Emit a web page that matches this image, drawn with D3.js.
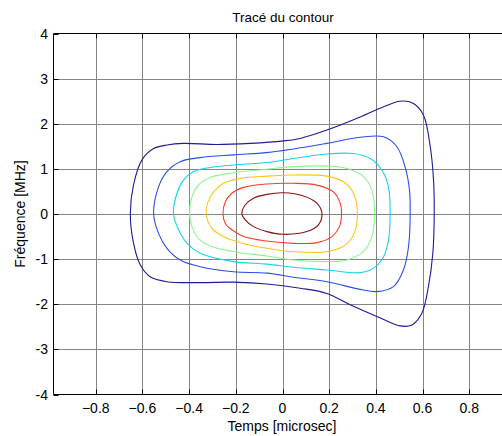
<!DOCTYPE html>
<html><head><meta charset="utf-8">
<script src="https://cdn.jsdelivr.net/npm/d3@7"></script>
<style>body{margin:0;background:#fff}svg{display:block}text{font-family:"Liberation Sans",Arial,sans-serif;fill:#000}</style>
</head><body><svg id="c" width="502" height="436"></svg>
<script>
const title = "Tracé du contour";
const xLabel = "Temps [microsec]";
const yLabel = "Fréquence [MHz]";
const xDomain = [-0.981, 0.981];
const yDomain = [-4, 4];
const xTicks = [-0.8, -0.6, -0.4, -0.2, 0, 0.2, 0.4, 0.6, 0.8];
const yTicks = [-4, -3, -2, -1, 0, 1, 2, 3, 4];
const levelColors = ["#1c1c94", "#2a4ee8", "#18d0f0", "#8cf58c", "#ffc21a", "#ff3a26", "#8a1212"];

const contour1 = [[-0.652,0],[-0.638,0.65],[-0.602,1.2],[-0.552,1.45],[-0.495,1.53],[-0.424,1.565],[-0.281,1.54],[-0.138,1.565],[0.004,1.62],[0.076,1.675],[0.19,1.86],[0.333,2.15],[0.433,2.375],[0.504,2.5],[0.561,2.45],[0.604,2.19],[0.633,1.49],[0.647,0.75],[0.65,0.015],[0.644,-0.87],[0.625,-1.61],[0.597,-2.2],[0.554,-2.46],[0.504,-2.48],[0.404,-2.27],[0.29,-2.01],[0.19,-1.76],[0.076,-1.645],[-0.067,-1.55],[-0.21,-1.51],[-0.352,-1.52],[-0.495,-1.5],[-0.567,-1.39],[-0.609,-1.13],[-0.638,-0.65]];
const contour2 = [[-0.552,0],[-0.531,0.6],[-0.495,0.94],[-0.438,1.16],[-0.352,1.25],[-0.21,1.31],[-0.067,1.36],[0.047,1.44],[0.19,1.565],[0.333,1.7],[0.433,1.71],[0.49,1.49],[0.525,1.05],[0.544,0.53],[0.547,0.015],[0.54,-0.72],[0.518,-1.24],[0.475,-1.61],[0.404,-1.72],[0.333,-1.67],[0.19,-1.5],[0.047,-1.4],[-0.067,-1.31],[-0.21,-1.28],[-0.352,-1.17],[-0.438,-1.02],[-0.495,-0.76],[-0.531,-0.43]];
const contour3 = [[-0.467,0],[-0.452,0.46],[-0.424,0.75],[-0.381,0.94],[-0.31,1.03],[-0.21,1.085],[-0.067,1.14],[0.047,1.23],[0.19,1.33],[0.304,1.34],[0.376,1.23],[0.426,0.97],[0.454,0.6],[0.461,0.015],[0.454,-0.58],[0.433,-0.945],[0.39,-1.2],[0.333,-1.3],[0.19,-1.24],[0.047,-1.18],[-0.067,-1.11],[-0.21,-1.055],[-0.352,-0.87],[-0.409,-0.65],[-0.445,-0.35]];
const contour4 = [[-0.398,0],[-0.388,0.38],[-0.36,0.64],[-0.31,0.81],[-0.21,0.915],[-0.067,0.99],[0.047,1.05],[0.19,1.06],[0.276,1.01],[0.347,0.83],[0.383,0.53],[0.394,0.015],[0.383,-0.5],[0.347,-0.83],[0.276,-1.02],[0.19,-1.055],[0.047,-1.02],[-0.067,-0.93],[-0.21,-0.835],[-0.31,-0.71],[-0.36,-0.54],[-0.388,-0.28]];
const contour5 = [[-0.327,0],[-0.321,0.24],[-0.295,0.49],[-0.253,0.68],[-0.181,0.79],[-0.067,0.84],[0.047,0.865],[0.19,0.84],[0.261,0.715],[0.304,0.46],[0.321,0.015],[0.307,-0.43],[0.268,-0.69],[0.19,-0.835],[0.047,-0.835],[-0.067,-0.76],[-0.181,-0.635],[-0.253,-0.5],[-0.302,-0.32]];
const contour6 = [[-0.255,0],[-0.245,0.27],[-0.217,0.46],[-0.167,0.59],[-0.067,0.665],[0.047,0.68],[0.147,0.64],[0.218,0.49],[0.247,0.24],[0.253,0.015],[0.244,-0.28],[0.212,-0.5],[0.147,-0.635],[0.047,-0.65],[-0.067,-0.6],[-0.167,-0.5],[-0.217,-0.35],[-0.245,-0.21]];
const contour7 = [[-0.174,0],[-0.16,0.2],[-0.124,0.35],[-0.067,0.435],[0.004,0.47],[0.09,0.4],[0.147,0.24],[0.169,0.015],[0.154,-0.24],[0.104,-0.39],[0.004,-0.45],[-0.067,-0.39],[-0.124,-0.28],[-0.16,-0.13]];
const contours = [contour1, contour2, contour3, contour4, contour5, contour6, contour7];

const L = 53.5, T = 33.5, B = 394.5;
const R = L + 458;
const svg = d3.select("#c");
const x = d3.scaleLinear().domain(xDomain).range([L, R]);
const y = d3.scaleLinear().domain(yDomain).range([B, T]);

// grid
const g = svg.append("g");
g.selectAll(".vg").data(xTicks).join("line")
  .attr("x1", d => Math.round(x(d)) + 0.5).attr("x2", d => Math.round(x(d)) + 0.5)
  .attr("y1", T).attr("y2", B).attr("stroke", "#858585").attr("stroke-width", 1);
g.selectAll(".hg").data(yTicks.slice(1, -1)).join("line")
  .attr("y1", d => Math.round(y(d)) + 0.5).attr("y2", d => Math.round(y(d)) + 0.5)
  .attr("x1", L).attr("x2", R).attr("stroke", "#858585").attr("stroke-width", 1);

// contours
const line = d3.line().x(d => x(d[0])).y(d => y(d[1])).curve(d3.curveCatmullRomClosed.alpha(0.5));
svg.append("g").selectAll("path").data(contours).join("path")
  .attr("d", line).attr("fill", "none")
  .attr("stroke", (d, i) => levelColors[i]).attr("stroke-width", 1.1);

// axes frame
const ax = svg.append("g").attr("stroke", "#000").attr("stroke-width", 1);
ax.append("line").attr("x1", L).attr("x2", R).attr("y1", T).attr("y2", T);
ax.append("line").attr("x1", L).attr("x2", R).attr("y1", B).attr("y2", B);
ax.append("line").attr("x1", L).attr("x2", L).attr("y1", T).attr("y2", B);
ax.selectAll(".tb").data(xTicks).join("line")
  .attr("x1", d => Math.round(x(d)) + 0.5).attr("x2", d => Math.round(x(d)) + 0.5)
  .attr("y1", B).attr("y2", B - 5);
ax.selectAll(".tt").data(xTicks).join("line")
  .attr("x1", d => Math.round(x(d)) + 0.5).attr("x2", d => Math.round(x(d)) + 0.5)
  .attr("y1", T).attr("y2", T + 5);
ax.selectAll(".tl").data(yTicks).join("line")
  .attr("y1", d => Math.round(y(d)) + 0.5).attr("y2", d => Math.round(y(d)) + 0.5)
  .attr("x1", L).attr("x2", L + 5);

// tick labels
svg.append("g").selectAll("text").data(xTicks).join("text")
  .attr("x", d => x(d)).attr("y", 413).attr("text-anchor", "middle")
  .attr("font-size", 14).text(d => d3.format("")(d));
svg.append("g").selectAll("text").data(yTicks).join("text")
  .attr("x", 48).attr("y", d => y(d) + 5).attr("text-anchor", "end")
  .attr("font-size", 14).text(d => d);

svg.append("text").attr("x", 283).attr("y", 22).attr("text-anchor", "middle").attr("font-size", 13.5).text(title);
svg.append("text").attr("x", 282).attr("y", 431).attr("text-anchor", "middle").attr("font-size", 14).text(xLabel);
svg.append("text").attr("transform", "translate(25,214) rotate(-90)").attr("text-anchor", "middle").attr("font-size", 14).text(yLabel);
</script></body></html>
